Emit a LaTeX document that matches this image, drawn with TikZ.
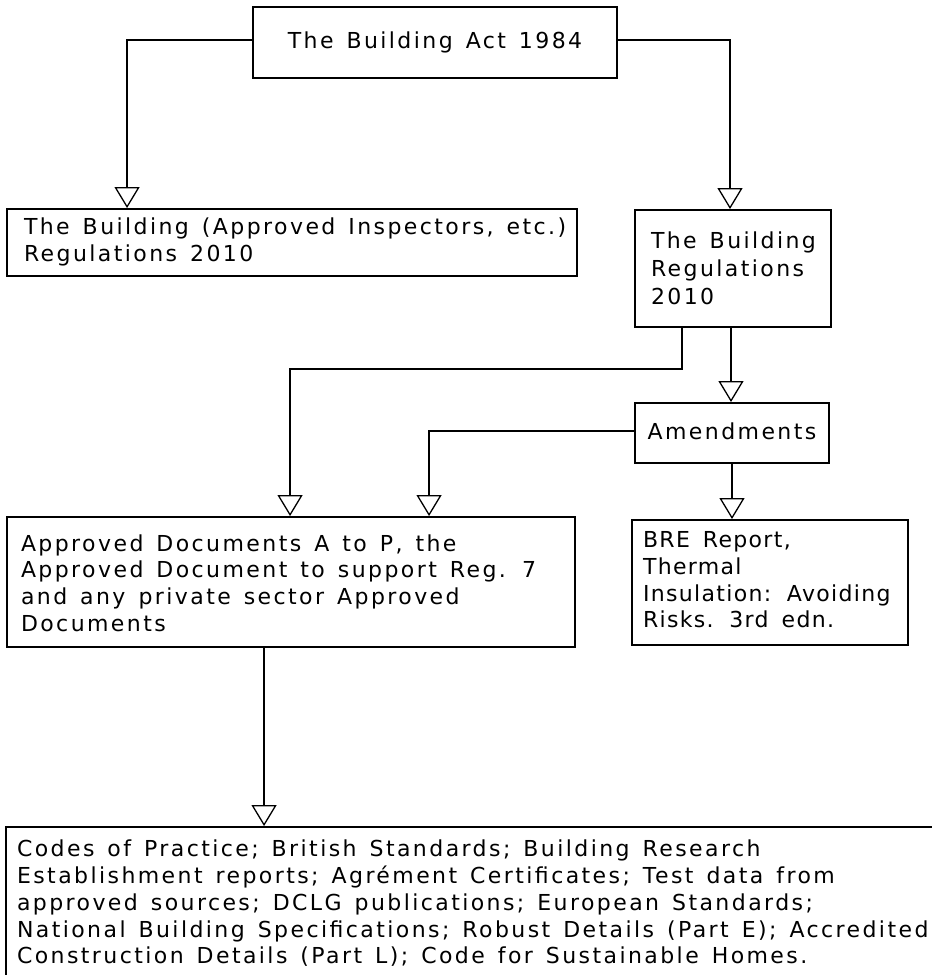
\documentclass[tikz,border=0pt]{standalone}
\usepackage{fontspec}
\setmainfont{DejaVu Sans}[LetterSpace=11]
\usetikzlibrary{arrows.meta}
\newcommand\wsp{\spaceskip=13pt plus 2pt minus 1pt\relax}
\newcommand\bxt[2]{\makebox[#1][l]{\wsp\begin{tabular}{@{}l@{}}#2\end{tabular}}}
\begin{document}
\begin{tikzpicture}[x=1pt,y=-1pt,
  box/.style={draw, line width=1.9pt, rectangle, inner sep=0pt,
    font=\fontsize{22}{26.7}\selectfont},
  conn/.style={line width=1.3pt, -{Triangle[open,length=21pt,width=25pt]}}]
\useasboundingbox (0,0) rectangle (932,975);
\clip (0,0) rectangle (932,975);

\node[box, minimum width=364pt, minimum height=71pt] (act) at (435,42.5) {\wsp The Building Act 1984};
\node[box, minimum width=570pt, minimum height=67pt] (ai) at (292,242.5)
  {\bxt{536pt}{The Building (Approved Inspectors, etc.)\\Regulations 2010}};
\node[box, minimum width=196pt, minimum height=117pt,
  font=\fontsize{22}{28}\selectfont] (reg) at (733,268.5)
  {\raisebox{-2pt}[\height][\depth]{\bxt{164pt}{The Building\\Regulations\\2010}}};
\node[box, minimum width=194pt, minimum height=60pt] (amend) at (732,433) {\raisebox{2pt}[\height][\depth]{Amendments}};
\node[box, minimum width=568pt, minimum height=130pt] (ad) at (291,582)
  {\raisebox{-4pt}[\height][\depth]{\bxt{540pt}{Approved Documents A to P, the\\Approved Document to support Reg. 7\\and any private sector Approved\\Documents}}};
\node[box, minimum width=276pt, minimum height=125pt,
  font=\fontsize{22}{26.7}\selectfont\addfontfeatures{LetterSpace=6}] (bre) at (770,582.5)
  {\bxt{254pt}{BRE Report,\\Thermal\\Insulation: Avoiding\\Risks. 3rd edn.}};
\node[box, minimum width=940pt, minimum height=156pt] (codes) at (476,905)
  {\bxt{918pt}{Codes of Practice; British Standards; Building Research\\Establishment reports; Agrément Certificates; Test data from\\approved sources; DCLG publications; European Standards;\\National Building Specifications; Robust Details (Part E); Accredited\\Construction Details (Part L); Code for Sustainable Homes.}};

\coordinate (actl) at ([yshift=2.5pt]act.west);
\coordinate (actr) at ([yshift=2.5pt]act.east);
\coordinate (aiin) at ([xshift=121pt]ai.north west);
\coordinate (regin) at ([xshift=-3pt]reg.north);
\coordinate (regout) at ([xshift=-51pt]reg.south);
\coordinate (regout2) at ([xshift=-2pt]reg.south);
\path (regout) ++(0,41) coordinate (bend);
\coordinate (amendl) at ([yshift=2pt]amend.west);
\coordinate (adin1) at ([xshift=284pt]ad.north west);
\coordinate (adin2) at ([xshift=423pt]ad.north west);
\coordinate (adout) at ([xshift=258pt]ad.south west);

\draw[conn] (actl) -| (aiin);
\draw[conn] (actr) -| (regin);
\draw[conn] (regout) -- (bend) -| (adin1);
\draw[conn] (regout2) -- (regout2 |- amend.north);
\draw[conn] (amendl) -| (adin2);
\draw[conn] (amend.south) -- (amend.south |- bre.north);
\draw[conn] (adout) -- (adout |- codes.north);
\end{tikzpicture}
\end{document}
